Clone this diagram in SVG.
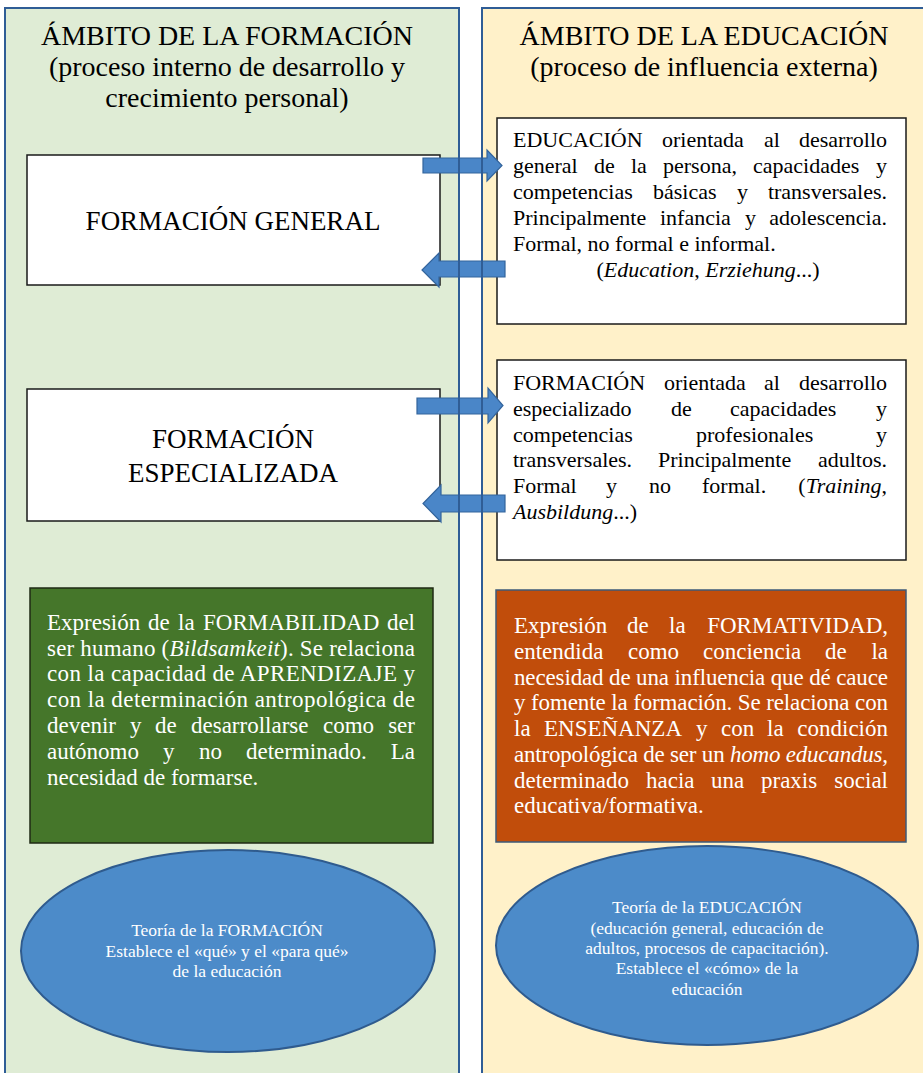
<svg xmlns="http://www.w3.org/2000/svg" width="923" height="1073" viewBox="0 0 923 1073">
<style>
text { font-family: "Liberation Serif", "Times New Roman", serif; }
.ttl { font-size: 28px; fill: #000; text-anchor: middle; }
.hd { font-size: 27px; fill: #000; text-anchor: middle; }
.b { font-size: 22px; fill: #000; }
.w { fill: #fff; font-size: 23px; }
.e { text-anchor: end; }
.m { text-anchor: middle; }
.i { font-style: italic; }
.el { font-size: 17.5px; fill: #fff; text-anchor: middle; }
.panelL { fill: #DFECD5; }
.panelR { fill: #FFF1C9; }
.pb { fill: none; stroke: #2F5D96; stroke-width: 2; }
.wb { fill: #fff; stroke: #1a1a1a; stroke-width: 1.5; }
.arr { fill: #4A86C8; stroke: #33649C; stroke-width: 1.2; }
.ell { fill: #4C8BC9; stroke: #2F5B8E; stroke-width: 2; }
</style>

<g id="panel-formacion">
  <rect class="panelL" x="5" y="8" width="454" height="1080"/>
  <text class="ttl" x="227" y="45">ÁMBITO DE LA FORMACIÓN</text>
  <text class="ttl" x="227" y="76">(proceso interno de desarrollo y</text>
  <text class="ttl" x="227" y="107">crecimiento personal)</text>
</g>
<g id="panel-educacion">
  <rect class="panelR" x="482" y="8" width="460" height="1080"/>
  <text class="ttl" x="704" y="45">ÁMBITO DE LA EDUCACIÓN</text>
  <text class="ttl" x="704" y="76">(proceso de influencia externa)</text>
</g>

<g id="formacion-general">
  <rect class="wb" x="27" y="155" width="413" height="130"/>
  <text class="hd" x="233" y="230">FORMACIÓN GENERAL</text>
</g>

<g id="formacion-especializada">
  <rect class="wb" x="27" y="389" width="413" height="132"/>
  <text class="hd" x="233" y="448">FORMACIÓN</text>
  <text class="hd" x="233" y="482">ESPECIALIZADA</text>
</g>

<g id="educacion-box">
  <rect class="wb" x="497" y="118" width="409" height="206"/>
  <text class="b" y="147"><tspan x="513">EDUCACIÓN</tspan><tspan x="662">orientada</tspan><tspan x="764">al</tspan></text>
  <text class="b e" x="887" y="147">desarrollo</text>
  <text class="b" y="173"><tspan x="513">general</tspan><tspan x="594">de</tspan><tspan x="631">la</tspan><tspan x="663">persona,</tspan><tspan x="753">capacidades</tspan></text>
  <text class="b e" x="887" y="173">y</text>
  <text class="b" y="199"><tspan x="513">competencias</tspan><tspan x="653">básicas</tspan><tspan x="737">y</tspan></text>
  <text class="b e" x="887" y="199">transversales.</text>
  <text class="b" y="225"><tspan x="513">Principalmente</tspan><tspan x="660">infancia</tspan><tspan x="745">y</tspan></text>
  <text class="b e" x="887" y="225">adolescencia.</text>
  <text class="b" x="513" y="251">Formal, no formal e informal.</text>
  <text class="b m" x="708" y="277">(<tspan class="i">Education</tspan>, <tspan class="i">Erziehung</tspan>...)</text>
</g>

<g id="formacion-box">
  <rect class="wb" x="497" y="360" width="409" height="200"/>
  <text class="b" y="390"><tspan x="513">FORMACIÓN</tspan><tspan x="664">orientada</tspan><tspan x="764">al</tspan></text>
  <text class="b e" x="887" y="390">desarrollo</text>
  <text class="b" y="416"><tspan x="513">especializado</tspan><tspan x="671">de</tspan><tspan x="730">capacidades</tspan></text>
  <text class="b e" x="887" y="416">y</text>
  <text class="b" y="442"><tspan x="513">competencias</tspan><tspan x="696">profesionales</tspan></text>
  <text class="b e" x="887" y="442">y</text>
  <text class="b" y="467"><tspan x="513">transversales.</tspan><tspan x="658">Principalmente</tspan></text>
  <text class="b e" x="887" y="467">adultos.</text>
  <text class="b" y="493"><tspan x="513">Formal</tspan><tspan x="606">y</tspan><tspan x="649">no</tspan><tspan x="702">formal.</tspan></text>
  <text class="b e" x="887" y="493">(<tspan class="i">Training</tspan>,</text>
  <text class="b" x="513" y="519"><tspan class="i">Ausbildung</tspan>...)</text>
</g>

<g id="formabilidad">
  <rect x="30" y="588" width="403" height="255" fill="#45762A" stroke="#1f2a14" stroke-width="1.5"/>
  <text class="b w" y="630"><tspan x="47">Expresión</tspan><tspan x="148">de</tspan><tspan x="178">la</tspan><tspan x="203">FORMABILIDAD</tspan></text>
  <text class="b w e" x="415" y="630">del</text>
  <text class="b w" x="47" y="656" textLength="368" lengthAdjust="spacing">ser humano (<tspan class="i">Bildsamkeit</tspan>). Se relaciona</text>
  <text class="b w" x="47" y="681" textLength="368" lengthAdjust="spacing">con la capacidad de APRENDIZAJE y</text>
  <text class="b w" x="47" y="707" textLength="368" lengthAdjust="spacing">con la determinación antropológica de</text>
  <text class="b w" y="733"><tspan x="47">devenir</tspan><tspan x="130">y</tspan><tspan x="155">de</tspan><tspan x="191">desarrollarse</tspan><tspan x="323">como</tspan></text>
  <text class="b w e" x="415" y="733">ser</text>
  <text class="b w" y="759"><tspan x="47">autónomo</tspan><tspan x="163">y</tspan><tspan x="199">no</tspan><tspan x="246">determinado.</tspan></text>
  <text class="b w e" x="415" y="759">La</text>
  <text class="b w" x="47" y="785">necesidad de formarse.</text>
</g>

<g id="formatividad">
  <rect x="496" y="590" width="410" height="252" fill="#C14D0B" stroke="#3E5A78" stroke-width="1.5"/>
  <text class="b w" y="633"><tspan x="514">Expresión</tspan><tspan x="627">de</tspan><tspan x="669">la</tspan></text>
  <text class="b w e" x="888" y="633">FORMATIVIDAD,</text>
  <text class="b w" y="659"><tspan x="514">entendida</tspan><tspan x="628">como</tspan><tspan x="703">conciencia</tspan><tspan x="825">de</tspan></text>
  <text class="b w e" x="888" y="659">la</text>
  <text class="b w" x="514" y="685" textLength="374" lengthAdjust="spacing">necesidad de una influencia que dé cauce</text>
  <text class="b w" x="514" y="710" textLength="374" lengthAdjust="spacing">y fomente la formación. Se relaciona con</text>
  <text class="b w" y="736"><tspan x="514">la</tspan><tspan x="544">ENSEÑANZA</tspan><tspan x="696">y</tspan><tspan x="721">con</tspan><tspan x="767">la</tspan></text>
  <text class="b w e" x="888" y="736">condición</text>
  <text class="b w" x="514" y="762" textLength="374" lengthAdjust="spacing">antropológica de ser un <tspan class="i">homo educandus</tspan>,</text>
  <text class="b w" y="788"><tspan x="514">determinado</tspan><tspan x="646">hacia</tspan><tspan x="711">una</tspan><tspan x="761">praxis</tspan></text>
  <text class="b w e" x="888" y="788">social</text>
  <text class="b w" x="514" y="813">educativa/formativa.</text>
</g>

<g id="teoria-formacion">
  <ellipse class="ell" cx="228" cy="951" rx="207" ry="101"/>
  <text class="el" x="227" y="936">Teoría de la FORMACIÓN</text>
  <text class="el" x="227" y="957">Establece el «qué» y el «para qué»</text>
  <text class="el" x="227" y="977">de la educación</text>
</g>

<g id="teoria-educacion">
  <ellipse class="ell" cx="707" cy="945.5" rx="211" ry="99.5"/>
  <text class="el" x="707" y="913">Teoría de la EDUCACIÓN</text>
  <text class="el" x="707" y="934">(educación general, educación de</text>
  <text class="el" x="707" y="954">adultos, procesos de capacitación).</text>
  <text class="el" x="707" y="974">Establece el «cómo» de la</text>
  <text class="el" x="707" y="995">educación</text>
</g>

<g id="connectors">
  <polygon class="arr" points="423,158 487,158 487,150 502,165.5 487,181 487,173 423,173"/>
  <polygon class="arr" points="505,261 439,261 439,253 422,270 439,287 439,277 505,277"/>
  <polygon class="arr" points="417,398 488,398 488,388 503,405.5 488,423 488,414 417,414"/>
  <polygon class="arr" points="505,495 441,495 441,485 423,503.5 441,522 441,512 505,512"/>
</g>

<g id="panel-borders">
  <rect class="pb" x="5" y="8" width="454" height="1080"/>
  <rect class="pb" x="482" y="8" width="460" height="1080"/>
</g>
</svg>
